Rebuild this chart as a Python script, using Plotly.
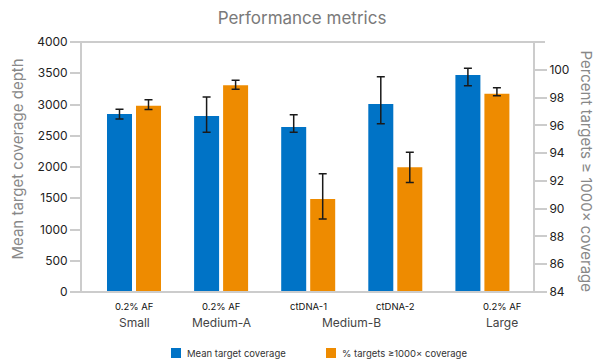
import plotly.graph_objects as go

# ---- data ----
sub_labels = ["0.2% AF", "0.2% AF", "ctDNA-1", "ctDNA-2", "0.2% AF"]
group_labels = ["Small", "Medium-A", "Medium-B", "Large"]
group_members = [[0], [1], [2, 3], [4]]
series_names = ["Mean target coverage", "% targets \u22651000\u00d7 coverage"]
mean_cov = [2848, 2816, 2640, 3008, 3472]
mean_err_plus = [75, 304, 197, 437, 107]
mean_err_minus = [80, 261, 85, 315, 171]
pct_cov = [97.41, 98.89, 90.70, 92.99, 98.27]
pct_err_plus = [0.43, 0.36, 1.82, 1.08, 0.43]
pct_err_minus = [0.27, 0.29, 1.44, 1.10, 0.14]
left_ticks = [0, 500, 1000, 1500, 2000, 2500, 3000, 3500, 4000]
right_ticks = [84, 86, 88, 90, 92, 94, 96, 98, 100]

# ---- style ----
BLUE = "#0073C6"
ORANGE = "#EE8B00"
FONT = "Inter"
W, H = 595, 362
L, R, T, B = 82, 62, 42, 70
PW, PH = W - L - R, H - T - B
xpos = list(range(len(sub_labels)))

fig = go.Figure()
fig.add_trace(go.Bar(
    x=xpos, y=mean_cov, name=series_names[0], marker_color=BLUE,
    marker_line_width=0, yaxis="y",
    error_y=dict(type="data", symmetric=False, array=mean_err_plus,
                 arrayminus=mean_err_minus, color="#1a1a1a", thickness=1.5, width=4),
    offsetgroup="a"))
fig.add_trace(go.Bar(
    x=xpos, y=pct_cov, name=series_names[1], marker_color=ORANGE,
    marker_line_width=0, yaxis="y2",
    error_y=dict(type="data", symmetric=False, array=pct_err_plus,
                 arrayminus=pct_err_minus, color="#1a1a1a", thickness=1.5, width=4),
    offsetgroup="b"))

step_px = 87.1
first_px = 134 - L
x_lo = -first_px / step_px
x_hi = (PW - first_px) / step_px

axis_col = "#cccccc"
fig.update_layout(
    width=W, height=H, margin=dict(l=L, r=R, t=T, b=B),
    paper_bgcolor="white", plot_bgcolor="white",
    barmode="group", bargap=0.334, bargroupgap=0.138,
    showlegend=False,
    font=dict(family=FONT, color="#222222", size=12),
    title=dict(text="Performance metrics", x=302 / W, xanchor="center",
               y=1 - 18 / H, yanchor="middle",
               font=dict(family=FONT, size=17, color="#7a7a7a")),
    xaxis=dict(range=[x_lo, x_hi], showticklabels=False, showgrid=False,
               zeroline=False, showline=False, ticks=""),
    yaxis=dict(range=[0, 4000], tickvals=left_ticks, showgrid=False, zeroline=False,
               showline=True, linecolor=axis_col, linewidth=2,
               ticks="outside", ticklen=10, tickwidth=2, tickcolor=axis_col,
               tickfont=dict(size=12, color="#222222")),
    yaxis2=dict(range=[84, 102], tickvals=right_ticks, overlaying="y", side="right",
                showgrid=False, zeroline=False,
                showline=True, linecolor=axis_col, linewidth=2,
                ticks="outside", ticklen=12, tickwidth=2, tickcolor=axis_col,
                tickfont=dict(size=12, color="#222222")),
)

# top and bottom frame lines spanning tick marks
for yy in (0, 1):
    fig.add_shape(type="line", xref="paper", yref="paper",
                  x0=-11 / PW, x1=1 + 12 / PW, y0=yy, y1=yy,
                  line=dict(color=axis_col, width=2), layer="above")

def py(px):  # pixel y from top -> paper y
    return (H - B - px) / PH

def pxx(px):  # pixel x -> paper x
    return (px - L) / PW

# category sub labels and group labels
large_shift = 20 / step_px
for i, lab in enumerate(sub_labels):
    xx = i + (large_shift if i == len(sub_labels) - 1 else 0)
    fig.add_annotation(x=xx, y=py(306), xref="x", yref="paper", text=lab,
                       showarrow=False, font=dict(size=9.5, color="#111111"),
                       xanchor="center", yanchor="middle")
for lab, mem in zip(group_labels, group_members):
    xx = sum(mem) / len(mem)
    if mem[-1] == len(sub_labels) - 1:
        xx += large_shift
    fig.add_annotation(x=xx, y=py(322), xref="x", yref="paper", text=lab,
                       showarrow=False, font=dict(size=12, color="#444444"),
                       xanchor="center", yanchor="middle")

# axis titles
fig.add_annotation(x=pxx(16.5), y=py(159), xref="paper", yref="paper",
                   text="Mean target coverage depth", textangle=-90, showarrow=False,
                   font=dict(size=15, color="#888888"), xanchor="center", yanchor="middle")
fig.add_annotation(x=pxx(586.5), y=py(171), xref="paper", yref="paper",
                   text="Percent targets \u2265 1000\u00d7 coverage", textangle=90,
                   showarrow=False, font=dict(size=15, color="#888888"),
                   xanchor="center", yanchor="middle")

# legend
for (sx, tx), name, col in zip([(171, 185), (326, 340)], series_names, [BLUE, ORANGE]):
    fig.add_shape(type="rect", xref="paper", yref="paper",
                  x0=pxx(sx), x1=pxx(sx + 10), y0=py(358), y1=py(348),
                  fillcolor=col, line=dict(width=0))
    fig.add_annotation(x=pxx(tx), y=py(353), xref="paper", yref="paper", text=name,
                       showarrow=False, font=dict(size=9.5, color="#333333"),
                       xanchor="left", yanchor="middle")

fig.write_html("out.html", config={"displayModeBar": False},
               post_script="document.body.style.margin='0';document.body.style.overflow='hidden';")
